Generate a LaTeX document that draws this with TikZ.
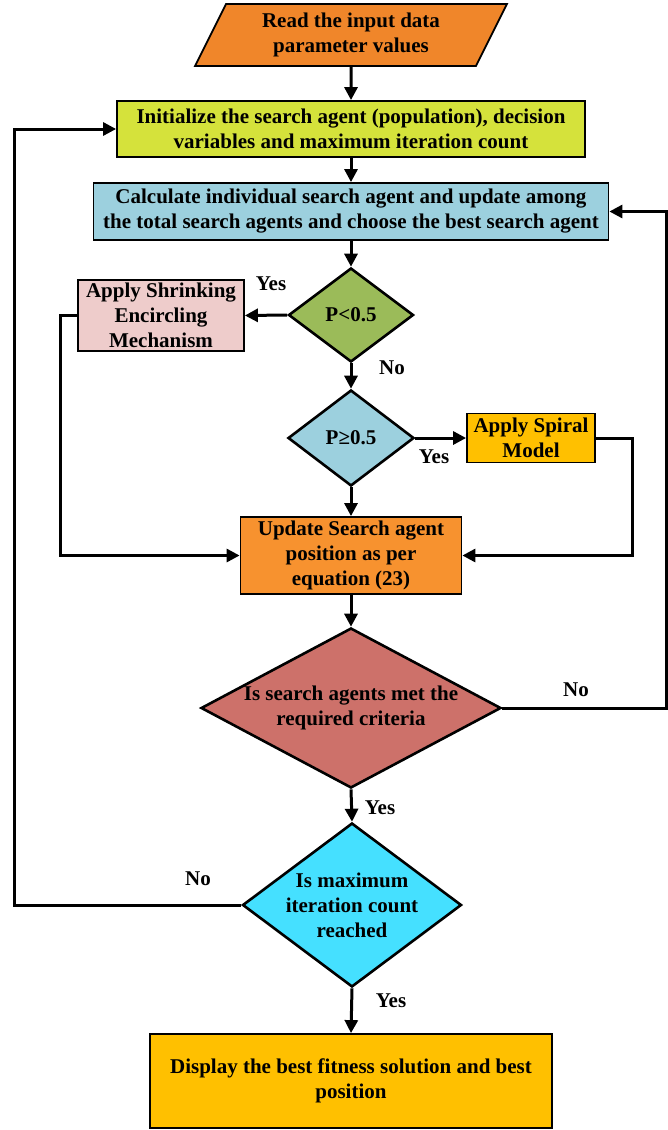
\documentclass[tikz,border=0pt]{standalone}
\usepackage{fontspec}
\setmainfont{Liberation Serif}
\usetikzlibrary{shapes.geometric,arrows.meta}
\definecolor{cread}{HTML}{F0862A}
\definecolor{cinit}{HTML}{D5E23B}
\definecolor{ccalc}{HTML}{9CD0DE}
\definecolor{cgreen}{HTML}{9BBB59}
\definecolor{cpink}{HTML}{EECCCB}
\definecolor{cgold}{HTML}{FFC000}
\definecolor{cupd}{HTML}{F7922F}
\definecolor{ccrit}{HTML}{CD716A}
\definecolor{ccyan}{HTML}{45E0FF}
\begin{document}
\begin{tikzpicture}[x=1pt,y=-1pt,
  every node/.style={font=\bfseries\fontsize{21}{25}\selectfont},
  box/.style={draw,line width=1.8pt,rectangle,align=center,inner sep=0pt},
  dia/.style={draw,line width=2.6pt,diamond,inner sep=0pt},
  txt/.style={align=center,inner sep=0pt},
  arr/.style={line width=3pt,-{Triangle[length=13pt,width=13pt]}},
  ln/.style={line width=3pt},
  lab/.style={inner sep=0pt}
]
\useasboundingbox (0,0) rectangle (668,1130);

\node[draw,line width=1.8pt,fill=cread,trapezium,trapezium left angle=63.4,trapezium right angle=116.6,
  trapezium stretches=true,minimum width=312pt,minimum height=62pt,align=center,inner sep=0pt]
  (read) at (351,35) {Read the input data\\parameter values};

\node[box,fill=cinit,minimum width=468pt,minimum height=56pt] (init) at (351,129)
  {Initialize the search agent (population), decision\\variables and maximum iteration count};

\node[box,fill=ccalc,minimum width=515pt,minimum height=57pt] (calc) at (351,211.5)
  {Calculate individual search agent and update among\\the total search agents and choose the best search agent};

\node[dia,fill=cgreen,minimum width=125pt,minimum height=94pt] (d1) at (351,315) {};
\node[txt] (d1t) at (d1) {P<0.5};

\node[box,fill=cpink,minimum width=166pt,minimum height=71pt] (shrink) at (161,315.5)
  {Apply Shrinking\\Encircling\\Mechanism};

\node[dia,fill=ccalc,minimum width=126pt,minimum height=96pt] (d2) at (351,438) {};
\node[txt] (d2t) at (d2) {P≥0.5};

\node[box,fill=cgold,minimum width=128pt,minimum height=49pt] (spiral) at (531,438)
  {Apply Spiral\\Model};

\node[box,fill=cupd,minimum width=221pt,minimum height=77pt] (upd) at (351,555.5)
  {Update Search agent\\position as per\\equation (23)};

\node[dia,fill=ccrit,minimum width=300pt,minimum height=160pt] (d3) at (351,708) {};
\node[txt] (d3t) at (351,708) {Is search agents met the\\required criteria};

\node[dia,fill=ccyan,minimum width=219pt,minimum height=164pt] (d4) at (352,905) {};
\node[txt] (d4t) at (352,905) {Is maximum\\iteration count\\reached};

\node[box,fill=cgold,minimum width=402pt,minimum height=94pt] (final) at (351,1081)
  {Display the best fitness solution and best\\position};

\coordinate (rn) at (666,708);
\coordinate (ln) at (14,905);

\draw[arr] (read.south) -- (init.north);
\draw[arr] (init.south) -- (calc.north);
\draw[arr] (calc.south) -- (d1.north);
\draw[arr] (d1.west) -- (shrink.east);
\draw[arr] (d1.south) -- (d2.north);
\draw[arr] (d2.east) -- (spiral.west);
\draw[arr] (d2.south) -- (upd.north);
\draw[arr] (shrink.west) -- ++(-17,0) |- (upd.west);
\draw[arr] (spiral.east) -- ++(37,0) |- (upd.east);
\draw[arr] (upd.south) -- (d3.north);
\draw[arr] (d3.east) -- (rn) |- (calc.east);
\draw[arr] (d3.south) -- (d4.north);
\draw[arr] (d4.west) -- (ln) |- (init.west);
\draw[arr] (d4.south) -- (final.north);

\node[lab] (y1) at (271,284) {Yes};
\node[lab] (n1) at (392,368) {No};
\node[lab] (y2) at (434,457) {Yes};
\node[lab] (n2) at (576,690) {No};
\node[lab] (y3) at (380,808) {Yes};
\node[lab] (n3) at (198,879) {No};
\node[lab] (y4) at (391,1001) {Yes};
\end{tikzpicture}
\end{document}
